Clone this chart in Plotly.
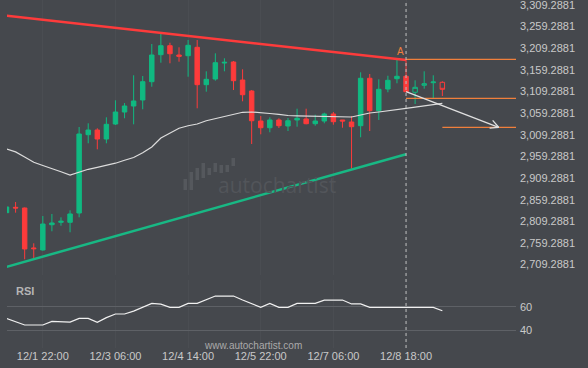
import plotly.graph_objects as go

# ---------------- data ----------------
idx = list(range(49))
opens  = [2829.2, 2841.6, 2840.0, 2747.6, 2743.0, 2801.4, 2807.0, 2807.0, 2828.5, 3009.5,
          3020.3, 2999.5, 3034.2, 3061.9, 3075.8, 3089.7, 3132.0, 3194.4, 3215.2, 3193.7,
          3192.1, 3211.5, 3125.1, 3138.2, 3175.2, 3177.5, 3135.9, 3110.5, 3041.1, 3025.6,
          3043.5, 3029.6, 3043.5, 3045.8, 3034.9, 3041.1, 3057.3, 3043.5, 3038.8, 3030.3,
          3139.9, 3065.0, 3115.1, 3138.9, 3144.5, 3107.5, 3123.7, 3129.7, 3130.6]
highs  = [2843.5, 2853.9, 2841.2, 2758.4, 2821.5, 2826.2, 2818.5, 2834.7, 3027.3, 3035.8,
          3024.3, 3049.7, 3089.0, 3082.7, 3146.8, 3145.2, 3219.1, 3242.3, 3222.1, 3211.5,
          3228.4, 3228.4, 3156.0, 3197.6, 3186.1, 3179.8, 3160.6, 3112.8, 3052.7, 3049.7,
          3047.4, 3048.1, 3069.6, 3069.6, 3055.7, 3060.3, 3062.0, 3043.5, 3052.7, 3153.7,
          3149.8, 3137.5, 3145.8, 3185.1, 3182.1, 3135.2, 3156.0, 3146.8, 3132.9]
lows   = [2828.5, 2829.2, 2721.5, 2721.5, 2741.3, 2786.2, 2799.1, 2783.9, 2818.5, 2989.6,
          2975.7, 2989.6, 3031.9, 3047.4, 3033.5, 3068.2, 3120.4, 3175.9, 3174.5, 3178.2,
          3143.5, 3070.5, 3108.9, 3134.3, 3156.0, 3112.8, 3086.7, 2988.0, 3010.4, 3015.0,
          3024.9, 3018.0, 3028.0, 3033.5, 3030.3, 3035.8, 3032.6, 3025.6, 2930.9, 3003.5,
          3018.0, 3043.5, 3107.5, 3128.3, 3108.9, 3080.4, 3115.8, 3093.6, 3098.9]
closes = [2842.4, 2840.0, 2745.3, 2746.0, 2803.0, 2805.4, 2809.3, 2826.2, 3011.1, 3020.3,
          2999.5, 3033.5, 3061.9, 3075.8, 3087.4, 3132.0, 3193.7, 3215.2, 3196.7, 3190.7,
          3216.1, 3125.1, 3137.5, 3175.9, 3176.8, 3134.3, 3101.9, 3041.8, 3025.6, 3043.5,
          3030.3, 3041.8, 3047.4, 3034.9, 3041.1, 3057.3, 3039.5, 3041.1, 3028.0, 3139.9,
          3065.0, 3114.4, 3135.2, 3144.5, 3108.9, 3119.0, 3127.4, 3131.3, 3114.4]
n_confirmed = 45   # candles up to the pattern point; the rest drawn hollow

ma = [2976.4, 2969.7, 2957.9, 2945.7, 2938.3, 2931.8, 2923.7, 2916.3, 2923.3, 2929.5,
      2934.1, 2938.7, 2943.6, 2950.3, 2956.8, 2967.9, 2981.1, 3001.8, 3013.4, 3024.3,
      3030.1, 3034.2, 3041.8, 3047.0, 3051.5, 3055.7, 3061.3, 3062.0, 3060.8, 3058.5,
      3056.6, 3053.9, 3053.2, 3052.7, 3052.7, 3052.7, 3052.0, 3050.4, 3050.4, 3055.0,
      3059.6, 3062.0, 3064.3, 3067.7, 3070.5, 3073.1, 3075.8, 3079.3, 3082.0]

rsi = [50.1, 47.3, 44.5, 44.5, 44.5, 47.6, 47.3, 47.0, 50.1, 50.1,
       46.8, 50.7, 53.8, 53.8, 56.2, 59.8, 62.8, 62.2, 59.4, 59.4,
       62.8, 62.8, 66.0, 69.0, 69.0, 69.0, 65.6, 62.5, 59.4, 62.8,
       59.4, 59.4, 62.8, 62.8, 62.8, 65.6, 65.6, 65.6, 62.3, 62.3,
       59.4, 59.4, 59.4, 59.4, 59.4, 59.4, 59.4, 59.4, 56.6]

resistance_x = [0, 44]
resistance_y = [3284.3, 3182.1]
support_x = [0, 44]
support_y = [2704.0, 2964.4]

pattern_idx = 44
level_top = 3183.7
level_mid = 3093.6
level_target = 3026.6
forecast_start_idx = 44
forecast_start_price = 3108.9
forecast_end_idx = 54.2
target_line_start_idx = 48

tick_idx = [4, 12, 20, 28, 36, 44]
tick_text = ['12/1 22:00', '12/3 06:00', '12/4 14:00', '12/5 22:00', '12/7 06:00', '12/8 18:00']
price_ticks = [2709.2881 + 50 * k for k in range(13)]
rsi_ticks = [40, 60]

# ---------------- style ----------------
BG = '#45484d'
GREEN = '#10b981'
RED = '#fd3b3b'
ORANGE = '#f07f3c'
TXT = '#c9c9c9'
FONT = 'Liberation Sans, Arial, sans-serif'

W, H = 588, 368
ML, MR, MT, MB = 7, 72, 0, 20
PW, PH = W - ML - MR, H - MT - MB

fig = go.Figure()

fig.add_trace(go.Scatter(x=idx, y=ma, mode='lines', line=dict(color='#dcdcdc', width=1.2),
                         hoverinfo='skip', showlegend=False))
fig.add_trace(go.Scatter(x=resistance_x, y=resistance_y, mode='lines',
                         line=dict(color=RED, width=2.5), showlegend=False, hoverinfo='skip'))
fig.add_trace(go.Scatter(x=support_x, y=support_y, mode='lines',
                         line=dict(color='#18b884', width=2.5), showlegend=False, hoverinfo='skip'))

k = n_confirmed
fig.add_trace(go.Candlestick(
    x=idx[:k], open=opens[:k], high=highs[:k], low=lows[:k], close=closes[:k],
    increasing=dict(line=dict(color=GREEN, width=1), fillcolor=GREEN),
    decreasing=dict(line=dict(color=RED, width=1), fillcolor=RED),
    showlegend=False, hoverinfo='skip'))
fig.add_trace(go.Candlestick(
    x=idx[k:], open=opens[k:], high=highs[k:], low=lows[k:], close=closes[k:],
    increasing=dict(line=dict(color=GREEN, width=1), fillcolor=BG),
    decreasing=dict(line=dict(color=RED, width=1), fillcolor=BG),
    showlegend=False, hoverinfo='skip'))

for x0, lvl in [(pattern_idx, level_top), (pattern_idx, level_mid), (target_line_start_idx, level_target)]:
    fig.add_trace(go.Scatter(x=[x0, 60], y=[lvl, lvl], mode='lines',
                             line=dict(color=ORANGE, width=1.3), showlegend=False, hoverinfo='skip'))

fig.add_trace(go.Scatter(x=[forecast_start_idx, forecast_end_idx], y=[forecast_start_price, level_target],
                         mode='lines', line=dict(color='#e0e0e0', width=1.3), showlegend=False, hoverinfo='skip'))
fig.add_trace(go.Scatter(x=[forecast_end_idx - 0.66, forecast_end_idx, forecast_end_idx - 1.0],
                         y=[level_target + 16.0, level_target, level_target - 2.0],
                         mode='lines', line=dict(color='#e0e0e0', width=1.3), showlegend=False, hoverinfo='skip'))

fig.add_trace(go.Scatter(x=idx, y=rsi, mode='lines', yaxis='y2', line=dict(color='#f0f0f0', width=1.2),
                         showlegend=False, hoverinfo='skip'))

def px2paper(px, py):
    return (px - ML) / PW, 1 - (py - MT) / PH

shapes = [dict(type='line', xref='x', yref='paper', x0=pattern_idx, x1=pattern_idx, y0=0, y1=1,
               line=dict(color='#bfbfbf', width=1, dash='3px,3px'))]

logo_bars = [(183.5, 179, 190), (189.5, 172, 190), (195.5, 168, 180), (201.5, 163, 178),
             (207.5, 168, 175), (213.5, 163, 172), (219.5, 165, 173), (225.5, 165, 172), (231.5, 158, 166)]
for bx, ytop, ybot in logo_bars:
    x0, y0 = px2paper(bx, ybot)
    x1, y1 = px2paper(bx + 3.5, ytop)
    shapes.append(dict(type='rect', xref='paper', yref='paper', x0=x0, x1=x1, y0=y0, y1=y1,
                       fillcolor='#55585d', line=dict(width=0), layer='below'))

annotations = []
ax_, ay_ = px2paper(14, 291)
annotations.append(dict(text='<b>RSI</b>', xref='paper', yref='paper', x=ax_, y=ay_, xanchor='left', yanchor='middle',
                        showarrow=False, font=dict(family=FONT, size=11, color='#b5b5b5')))
wx, wy = px2paper(253, 345)
annotations.append(dict(text='www.autochartist.com', xref='paper', yref='paper', x=wx, y=wy, xanchor='center',
                        yanchor='middle', showarrow=False, font=dict(family=FONT, size=10, color='#aaaaaa')))
tx, ty = px2paper(277, 185)
annotations.append(dict(text='autochartist', xref='paper', yref='paper', x=tx, y=ty, xanchor='center',
                        yanchor='middle', showarrow=False, font=dict(family='Open Sans', size=21, color='#52555a')))
annotations.append(dict(text='A', xref='x', yref='y', x=pattern_idx, y=level_top, xanchor='center', yanchor='bottom',
                        xshift=-6, yshift=0, showarrow=False, font=dict(family=FONT, size=10, color=ORANGE)))

fig.update_layout(
    width=W, height=H,
    margin=dict(l=ML, r=MR, t=MT, b=MB),
    paper_bgcolor=BG, plot_bgcolor=BG,
    font=dict(family=FONT, size=11, color=TXT),
    showlegend=False,
    shapes=shapes, annotations=annotations,
    xaxis=dict(range=[0.055, 56.11], anchor='y2', tickvals=tick_idx, ticktext=tick_text,
               showgrid=True, gridcolor='#4a4d52', gridwidth=1, zeroline=False, showline=False,
               ticks='', rangeslider=dict(visible=False), tickfont=dict(size=11, color=TXT), fixedrange=True),
    yaxis=dict(domain=[1 - 275 / PH, 1], range=[2685.15, 3320.85], side='right', tickvals=price_ticks,
               tickformat=',.4f', showgrid=False, zeroline=False, showline=False, ticks='',
               ticklabelstandoff=3, ticklabeloverflow='allow', tickfont=dict(size=11, color=TXT), anchor='x'),
    yaxis2=dict(domain=[0, 1 - 280 / PH], range=[25, 82.6], side='right', tickvals=rsi_ticks,
                showgrid=True, gridcolor='#5e6166', gridwidth=1, zeroline=False, showline=False, ticks='',
                ticklabelstandoff=3, tickfont=dict(size=11, color=TXT), anchor='x'),
)

fig.write_html('out.html', config={'displayModeBar': False},
               post_script="document.body.style.margin='0';document.body.style.background='" + BG + "';")
